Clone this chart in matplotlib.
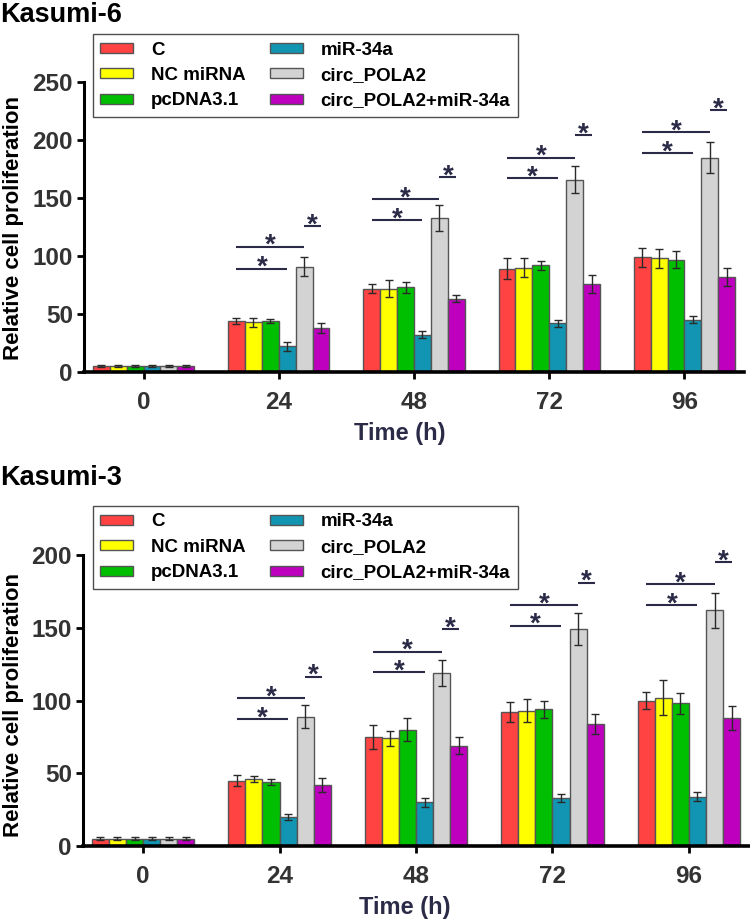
import matplotlib
matplotlib.use("Agg")
import matplotlib.pyplot as plt
import numpy as np

plt.rcParams['font.family'] = ['Liberation Sans', 'DejaVu Sans']
plt.rcParams['font.weight'] = 'bold'

times = ["0", "24", "48", "72", "96"]
groups = ["C", "NC miRNA", "pcDNA3.1", "miR-34a", "circ_POLA2", "circ_POLA2+miR-34a"]
colors = ["#FF4242", "#FFFF00", "#00BE00", "#1195B2", "#D3D3D3", "#BE00BE"]

# Kasumi-6
k6_C = [5, 44, 72, 89, 99]
k6_NC = [5, 43, 72, 90, 98]
k6_pc = [5, 44, 73, 92, 97]
k6_mir = [5, 22, 32, 42, 45]
k6_circ = [5, 91, 133, 166, 185]
k6_circmir = [5, 38, 63, 76, 82]
k6_C_err = [1, 3, 4, 9, 8]
k6_NC_err = [1, 4, 7, 8, 8]
k6_pc_err = [1, 2, 4.5, 4, 7]
k6_mir_err = [1, 3.5, 3, 3, 3]
k6_circ_err = [1, 8, 11, 12, 13]
k6_circmir_err = [1, 4, 3, 8, 8]
# significance bracket heights for time points 24, 48, 72, 96
k6_sig_mir = [89, 131, 167, 189]
k6_sig_circ = [108, 149, 185, 207]
k6_sig_rescue = [126, 168, 204, 226]

# Kasumi-3
k3_C = [5, 45, 75, 92, 100]
k3_NC = [5, 46, 74, 93, 102]
k3_pc = [5, 44, 80, 94, 98]
k3_mir = [5, 20, 30, 33, 34]
k3_circ = [5, 89, 119, 149, 162]
k3_circmir = [5, 42, 69, 84, 88]
k3_C_err = [1, 4, 8, 7, 6]
k3_NC_err = [1, 2, 5, 8, 12]
k3_pc_err = [1, 2, 8, 6, 7]
k3_mir_err = [1, 2, 3, 3, 3]
k3_circ_err = [1, 8, 9, 11, 12]
k3_circmir_err = [1, 5, 6, 7, 8]
k3_sig_mir = [87, 119.5, 151.5, 165.5]
k3_sig_circ = [101.5, 133.5, 165.5, 180]
k3_sig_rescue = [116.5, 149, 181, 195]

fig = plt.figure(figsize=(7.5, 9.22), dpi=100)

TICK_COLOR = "#333333"
SIG_COLOR = "#2b2b48"
W = 0.125


def panel(ax, means, errs, sig_mir, sig_circ, sig_rescue, ymax_spine, ylim_top, yticks, leg_anchor):
    x = np.arange(len(times))
    offs = (np.arange(6) - 2.5) * W
    for i in range(6):
        ax.bar(x + offs[i], means[i], width=W, color=colors[i], edgecolor="#555555",
               linewidth=1.0, label=groups[i], zorder=2)
        ax.errorbar(x + offs[i], means[i], yerr=errs[i], fmt='none', ecolor="#2a2a2a",
                    elinewidth=1.0, capsize=2.8, capthick=1.0, zorder=3)
    for j in range(len(sig_mir)):
        g = j + 1
        for (a, b, h) in [(offs[0], offs[3], sig_mir[j]), (offs[0], offs[4], sig_circ[j]),
                          (offs[4], offs[5], sig_rescue[j])]:
            ax.plot([g + a, g + b], [h, h], color=SIG_COLOR, lw=1.5, solid_capstyle='butt', zorder=4)
            ax.annotate('*', ((g + a + g + b) / 2, h), xytext=(0, -4.5), textcoords='offset points',
                        ha='center', va='baseline', fontsize=20, fontweight='bold', color=SIG_COLOR)
    ax.set_xlim(-0.44, 4.44)
    ax.set_ylim(0, ylim_top)
    for s in ['top', 'right']:
        ax.spines[s].set_visible(False)
    ax.spines['left'].set_bounds(0, ymax_spine)
    ax.spines['left'].set_linewidth(2.2)
    ax.spines['bottom'].set_linewidth(2.6)
    ax.set_yticks(yticks)
    ax.set_xticks(x)
    ax.set_xticklabels(times)
    ax.tick_params(axis='both', direction='out', length=5, width=2, labelsize=17.5,
                   labelcolor=TICK_COLOR, pad=3)
    ax.tick_params(axis='x', pad=9)
    for lab in ax.get_xticklabels() + ax.get_yticklabels():
        lab.set_fontweight('bold')
    leg = ax.legend(loc='upper left', bbox_to_anchor=leg_anchor, borderaxespad=0, ncol=2,
                    fontsize=13.5, frameon=True, fancybox=False, handlelength=1.75,
                    handleheight=0.45, handletextpad=0.95, columnspacing=1.3,
                    labelspacing=0.45, borderpad=0.4)
    leg.get_frame().set_edgecolor('#222222')
    leg.get_frame().set_linewidth(1.0)
    for t in leg.get_texts():
        t.set_fontweight('bold')
    for p in leg.get_patches():
        p.set_edgecolor('#555555')
        p.set_linewidth(1.0)


ax1 = fig.add_axes([84 / 750, 1 - 372 / 922, 660 / 750, (372 - 30) / 922])
panel(ax1,
      [k6_C, k6_NC, k6_pc, k6_mir, k6_circ, k6_circmir],
      [k6_C_err, k6_NC_err, k6_pc_err, k6_mir_err, k6_circ_err, k6_circmir_err],
      k6_sig_mir, k6_sig_circ, k6_sig_rescue, 250, 295, [0, 50, 100, 150, 200, 250],
      (0.0136, 0.988))

ax2 = fig.add_axes([83 / 750, 1 - 846 / 922, 666 / 750, (846 - 497) / 922])
panel(ax2,
      [k3_C, k3_NC, k3_pc, k3_mir, k3_circ, k3_circmir],
      [k3_C_err, k3_NC_err, k3_pc_err, k3_mir_err, k3_circ_err, k3_circmir_err],
      k3_sig_mir, k3_sig_circ, k3_sig_rescue, 200, 240, [0, 50, 100, 150, 200],
      (0.015, 0.9745))

fig.text(0.0, 1 - 22 / 922, "Kasumi-6", fontsize=19.5, fontweight='bold', color='black',
         ha='left', va='baseline')
fig.text(0.0, 1 - 485 / 922, "Kasumi-3", fontsize=19.5, fontweight='bold', color='black',
         ha='left', va='baseline')
fig.text(14 / 750, 1 - 228 / 922, "Relative cell proliferation", rotation=90, fontsize=16,
         fontweight='bold', ha='center', va='center')
fig.text(14 / 750, 1 - 705 / 922, "Relative cell proliferation", rotation=90, fontsize=16,
         fontweight='bold', ha='center', va='center')
fig.text(400 / 750, 1 - 433 / 922, "Time (h)", fontsize=17, fontweight='bold', color=SIG_COLOR,
         ha='center', va='center')
fig.text(405 / 750, 1 - 907 / 922, "Time (h)", fontsize=17, fontweight='bold', color=SIG_COLOR,
         ha='center', va='center')

fig.savefig("out.png", dpi=100)
